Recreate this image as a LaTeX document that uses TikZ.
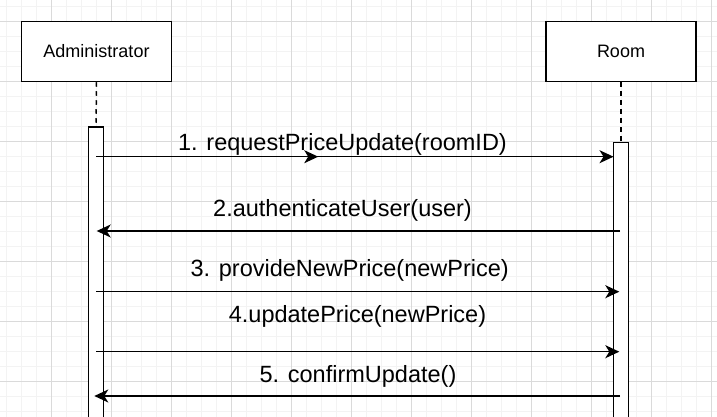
\documentclass[tikz,border=0pt]{standalone}
\usepackage{fontspec}
\setmainfont{Liberation Sans}
\usetikzlibrary{arrows.meta}
\definecolor{gridminor}{RGB}{243,243,243}
\definecolor{gridmajor}{RGB}{218,218,218}
\begin{document}
\begin{tikzpicture}[x=1pt,y=-1pt,
  actor/.style={draw=black, line width=1.5pt, fill=white, minimum width=150pt,
    minimum height=60pt, inner sep=0pt, font=\fontsize{18}{21}\selectfont},
  bar/.style={draw=black, line width=1.5pt, fill=white, minimum width=15pt,
    inner sep=0pt, anchor=north},
  lifeline/.style={line width=1.5pt, dash pattern=on 4.5pt off 4.5pt},
  msg/.style={line width=1.5pt, -{Stealth[length=14pt,width=13pt,inset=4pt]}},
  msglabel/.style={anchor=base, inner sep=0pt, font=\fontsize{23.5}{28}\selectfont},
  minorline/.style={draw=gridminor, line width=1pt},
  majorline/.style={draw=gridmajor, line width=1pt}
]
\useasboundingbox (0,0) rectangle (717,417);
\clip (0,0) rectangle (717,417);
\fill[white] (0,0) rectangle (717,417);

% background grid: 15pt cells, a darker line every fourth cell
\foreach \x in {6.5,21.5,...,716} \draw[minorline] (\x,0) -- (\x,417);
\foreach \y in {6.5,21.5,...,416} \draw[minorline] (0,\y) -- (717,\y);
\foreach \x in {51.5,111.5,...,716} \draw[majorline] (\x,0) -- (\x,417);
\foreach \y in {21.5,81.5,...,416} \draw[majorline] (0,\y) -- (717,\y);

% participants
\node[actor] (admin) at (96.5,51.5) {Administrator};
\node[actor] (room) at (621,51.5) {Room};

% activation bars
\node[bar, minimum height=320pt] (adminbar) at (96,126.5) {};
\node[bar, minimum height=300pt] (roombar) at (621,141.5) {};

% lifelines
\draw[lifeline] (admin.south) -- (adminbar.north);
\draw[lifeline] (room.south) -- (roombar.north);

% message end points on the lifelines
\coordinate (m1s) at (96,156.7);   \coordinate (m1e) at (613.5,156.7);
\coordinate (m2s) at (620,231);    \coordinate (m2e) at (96.7,231);
\coordinate (m3s) at (96,291.7);   \coordinate (m3e) at (619.3,291.7);
\coordinate (m4s) at (96,351.7);   \coordinate (m4e) at (619.3,351.7);
\coordinate (m5s) at (620,396);    \coordinate (m5e) at (94.3,396);
\path (m1s) -- (m1e) coordinate[pos=0.4294] (m1mid);

% messages
\draw[msg] (m1s) -- (m1e);
\draw[msg] (m1s) -- (m1mid);
\draw[msg] (m2s) -- (m2e);
\draw[msg] (m3s) -- (m3e);
\draw[msg] (m4s) -- (m4e);
\draw[msg] (m5s) -- (m5e);

% message labels
\node[msglabel] (l1) at (342.5,150) {1. requestPriceUpdate(roomID)};
\node[msglabel] (l2) at (342.5,216.7) {2.authenticateUser(user)};
\node[msglabel] (l3) at (349.7,276.7) {3. provideNewPrice(newPrice)};
\node[msglabel] (l4) at (357.5,322.7) {4.updatePrice(newPrice)};
\node[msglabel] (l5) at (358,382.7) {5. confirmUpdate()};
\end{tikzpicture}
\end{document}
